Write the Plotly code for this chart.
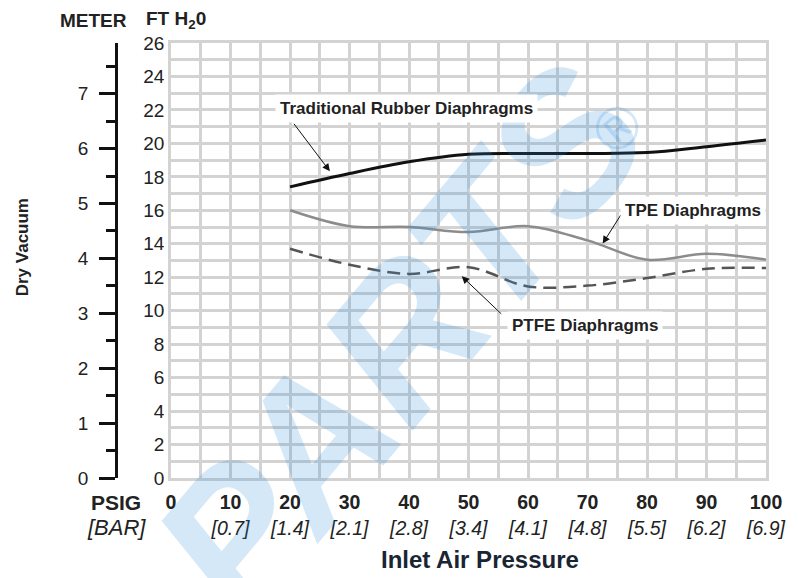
import plotly.graph_objects as go

# ---- data ----
psi = [20, 30, 40, 50, 60, 70, 80, 90, 100]
rubber = [17.4, 18.2, 18.9, 19.35, 19.4, 19.4, 19.45, 19.8, 20.2]
tpe = [16.0, 15.05, 15.0, 14.7, 15.05, 14.2, 13.05, 13.4, 13.05]
ptfe = [13.7, 12.75, 12.2, 12.6, 11.45, 11.5, 11.95, 12.5, 12.55]

xtick_psi = [0, 10, 20, 30, 40, 50, 60, 70, 80, 90, 100]
xtick_bar = ["", "[0.7]", "[1.4]", "[2.1]", "[2.8]", "[3.4]", "[4.1]", "[4.8]", "[5.5]", "[6.2]", "[6.9]"]
ft_ticks = list(range(0, 27, 2))
meter_ticks = list(range(0, 8))
FT_PER_M = 3.2808

FONT = "Liberation Sans"
OFF = 8  # default page body margin
W, H = 790, 570
ml, mt = 116 - OFF, 42.7 - OFF
pw = 650
ph = 435
mr = W - ml - pw
mb = H - mt - ph
x0 = (171 - 116) / pw


def px(xp):
    return (xp - 116) / pw


def py(yp):
    return 1 - (yp - 42.7) / ph


fig = go.Figure()
fig.add_trace(go.Scatter(x=psi, y=rubber, mode="lines", line=dict(color="#111111", width=3, shape="spline"),
                         showlegend=False, hoverinfo="skip"))
fig.add_trace(go.Scatter(x=psi, y=tpe, mode="lines", line=dict(color="#8c8c8c", width=2.5, shape="spline"),
                         showlegend=False, hoverinfo="skip"))
fig.add_trace(go.Scatter(x=psi, y=ptfe, mode="lines",
                         line=dict(color="#555555", width=2.5, shape="spline", dash="13px,7px"),
                         showlegend=False, hoverinfo="skip"))
# meter axis helper trace
fig.add_trace(go.Scatter(x=[None], y=[None], yaxis="y2", showlegend=False, hoverinfo="skip"))

grid = "#d3d3d3"
ticktext = [f"<b>{p}</b><br><i>{b}</i>" if b else f"<b>{p}</b><br> " for p, b in zip(xtick_psi, xtick_bar)]
fig.update_layout(
    width=W, height=H, margin=dict(l=ml, r=mr, t=mt, b=mb, autoexpand=False),
    paper_bgcolor="white", plot_bgcolor="white",
    xaxis=dict(domain=[x0, 1], range=[0, 100], tickvals=xtick_psi, ticktext=ticktext,
               showgrid=True, gridcolor=grid, gridwidth=2.5,
               minor=dict(dtick=5, showgrid=True, gridcolor=grid, gridwidth=2.5),
               showline=True, linecolor=grid, linewidth=2.5, mirror=True, zeroline=False,
               ticks="", automargin=False, ticklabelstandoff=5,
               tickfont=dict(family=FONT, size=19.5, color="#222")),
    yaxis=dict(range=[0, 26], tickvals=ft_ticks, showgrid=True, gridcolor=grid, gridwidth=2.5,
               minor=dict(dtick=1, showgrid=True, gridcolor=grid, gridwidth=2.5),
               showline=True, linecolor=grid, linewidth=2.5, mirror=True, zeroline=False,
               ticks="", automargin=False, tickfont=dict(family=FONT, size=19, color="#222")),
    yaxis2=dict(range=[0, 26 / FT_PER_M], overlaying="y", anchor="free", position=0, side="left",
                tickvals=meter_ticks, showgrid=False, zeroline=False,
                showline=True, linecolor="#111", linewidth=2.5,
                ticks="outside", ticklen=16, tickwidth=2.5, tickcolor="#111",
                minor=dict(dtick=0.5, ticks="outside", ticklen=9, tickwidth=2.5, tickcolor="#111"),
                ticklabelstandoff=7, automargin=False,
                tickfont=dict(family=FONT, size=19, color="#222")),
)

wm = "rgba(40,140,220,0.2)"
C = dict(xanchor="center", yanchor="middle")
annotations = []
# watermark
annotations.append(dict(xref="paper", yref="paper", x=px(400), y=py(340),
                        text="<b><i>PARTS</i></b>", showarrow=False, textangle=-50,
                        font=dict(family=FONT, size=195, color=wm), **C))
annotations.append(dict(xref="paper", yref="paper", x=px(617), y=py(128),
                        text="®", showarrow=False, textangle=-40,
                        font=dict(family=FONT, size=60, color=wm), **C))
# labels with arrows
arrow = dict(text="", showarrow=True, arrowhead=2, arrowsize=1.5, arrowwidth=1, arrowcolor="#111")
annotations += [
    dict(x=26.7, y=18.33, ax=-37, ay=-49, **arrow),
    dict(x=72.55, y=14.01, ax=19, ay=-30, **arrow),
    dict(x=48.86, y=12.06, ax=41, ay=39, **arrow),
    dict(x=39.5, y=22.08, text="<b>Traditional Rubber Diaphragms</b>", showarrow=False, bgcolor="white",
         font=dict(family=FONT, size=17, color="#222"), borderpad=4, **C),
    dict(x=87.65, y=16.0, text="<b>TPE Diaphragms</b>", showarrow=False, bgcolor="white",
         font=dict(family=FONT, size=17, color="#222"), borderpad=4, **C),
    dict(x=69.5, y=9.13, text="<b>PTFE Diaphragms</b>", showarrow=False, bgcolor="white",
         font=dict(family=FONT, size=17, color="#222"), borderpad=4, **C),
]
# axis titles / headers
annotations += [
    dict(xref="paper", yref="paper", x=px(93), y=py(20), text="<b>METER</b>", showarrow=False,
         font=dict(family=FONT, size=19, color="#222"), **C),
    dict(xref="paper", yref="paper", x=px(176), y=py(20), text="<b>FT H<sub>2</sub>0</b>", showarrow=False,
         font=dict(family=FONT, size=19, color="#222"), **C),
    dict(xref="paper", yref="paper", x=px(22), y=py(247), text="<b>Dry Vacuum</b>", showarrow=False,
         textangle=-90, font=dict(family=FONT, size=17, color="#222"), **C),
    dict(xref="paper", yref="paper", x=px(116), y=py(502), text="<b>PSIG</b>", showarrow=False,
         font=dict(family=FONT, size=21, color="#222"), **C),
    dict(xref="paper", yref="paper", x=px(116), y=py(527), text="<i>[BAR]</i>", showarrow=False,
         font=dict(family=FONT, size=22, color="#222"), **C),
    dict(xref="paper", yref="paper", x=px(480), y=py(559), text="<b>Inlet Air Pressure</b>", showarrow=False,
         font=dict(family=FONT, size=24, color="#1a2533"), **C),
]
fig.update_layout(annotations=annotations)
fig.write_html("out.html")
